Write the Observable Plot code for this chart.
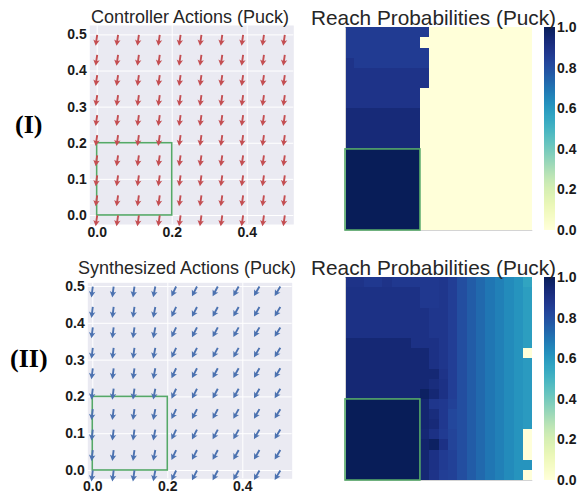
<!DOCTYPE html>
<html><head><meta charset="utf-8">
<script src="https://cdn.jsdelivr.net/npm/d3@7"></script>
<script src="https://cdn.jsdelivr.net/npm/@observablehq/plot@0.6"></script>
<style>
html,body{margin:0;padding:0;background:#fff;overflow:hidden;}
#root{position:relative;width:578px;height:494px;}
#root > svg{position:absolute;overflow:visible;}
</style></head><body><div id="root"></div>
<script>
// ---------- data ----------
const gridPos = [0, 0.0556, 0.1111, 0.1667, 0.2222, 0.2778, 0.3333, 0.3889, 0.4444, 0.5];
// arrow direction per column (degrees clockwise from north)
const controllerRotate = [188, 188, 188, 188, 188, 188, 188, 188, 188, 188];
const synthRotate = [187, 187, 188, 191, 205, 207, 208, 209, 210, 211];
const safeBox = [{x1: 0, x2: 0.2, y1: 0, y2: 0.2}];
const xTicks = [0, 0.2, 0.4];
const yTicks = [0, 0.1, 0.2, 0.3, 0.4, 0.5];
const cbTicks = [0, 0.2, 0.4, 0.6, 0.8, 1.0];
const cellSize = 0.025;
// reach probabilities, top row (y≈0.5) first, 20 columns from x=0 to x=0.5
const reachI = [
  [.86,.86,.86,.86,.86,.86,.86,.86,.86,0,0,0,0,0,0,0,0,0,0,0],
  [.86,.86,.86,.86,.86,.86,.86,.86,0,0,0,0,0,0,0,0,0,0,0,0],
  [.86,.86,.86,.86,.86,.86,.86,.86,.86,0,0,0,0,0,0,0,0,0,0,0],
  [.89,.86,.86,.86,.86,.86,.86,.86,.86,0,0,0,0,0,0,0,0,0,0,0],
  [.89,.89,.89,.89,.89,.89,.89,.89,.89,0,0,0,0,0,0,0,0,0,0,0],
  [.89,.89,.89,.89,.89,.89,.89,.89,.89,0,0,0,0,0,0,0,0,0,0,0],
  [.89,.89,.89,.89,.89,.89,.89,.89,0,0,0,0,0,0,0,0,0,0,0,0],
  [.89,.89,.89,.89,.89,.89,.89,.89,0,0,0,0,0,0,0,0,0,0,0,0],
  [.93,.93,.93,.93,.93,.93,.93,.93,0,0,0,0,0,0,0,0,0,0,0,0],
  [.93,.93,.93,.93,.93,.93,.93,.93,0,0,0,0,0,0,0,0,0,0,0,0],
  [.93,.93,.93,.93,.93,.93,.93,.93,0,0,0,0,0,0,0,0,0,0,0,0],
  [.93,.93,.93,.93,.93,.93,.93,.93,0,0,0,0,0,0,0,0,0,0,0,0],
  [1,1,1,1,1,1,1,1,0,0,0,0,0,0,0,0,0,0,0,0],
  [1,1,1,1,1,1,1,1,0,0,0,0,0,0,0,0,0,0,0,0],
  [1,1,1,1,1,1,1,1,0,0,0,0,0,0,0,0,0,0,0,0],
  [1,1,1,1,1,1,1,1,0,0,0,0,0,0,0,0,0,0,0,0],
  [1,1,1,1,1,1,1,1,0,0,0,0,0,0,0,0,0,0,0,0],
  [1,1,1,1,1,1,1,1,0,0,0,0,0,0,0,0,0,0,0,0],
  [1,1,1,1,1,1,1,1,0,0,0,0,0,0,0,0,0,0,0,0],
  [1,1,1,1,1,1,1,1,0,0,0,0,0,0,0,0,0,0,0,0]
];
const reachII = [
  [.89,.89,.87,.87,.89,.87,.87,.87,.87,.87,.88,.85,.80,.76,.725,.69,.665,.635,.61,.56],
  [.90,.90,.90,.90,.90,.90,.90,.90,.87,.87,.88,.85,.80,.76,.725,.69,.665,.635,.61,.58],
  [.90,.90,.90,.90,.90,.90,.90,.90,.87,.87,.88,.85,.80,.76,.725,.69,.665,.635,.61,.58],
  [.90,.90,.90,.90,.90,.90,.90,.90,.90,.88,.88,.85,.80,.76,.725,.69,.665,.635,.61,.58],
  [.90,.90,.90,.90,.90,.90,.90,.90,.90,.88,.88,.85,.80,.76,.725,.69,.665,.635,.61,.58],
  [.90,.90,.90,.90,.90,.90,.90,.90,.90,.88,.88,.85,.80,.76,.725,.69,.665,.635,.61,.58],
  [.94,.94,.94,.94,.94,.94,.94,.90,.90,.90,.88,.85,.80,.76,.725,.69,.665,.635,.61,.58],
  [.94,.94,.94,.94,.94,.94,.94,.94,.94,.90,.88,.85,.80,.76,.725,.69,.665,.635,.61,0],
  [.94,.94,.94,.94,.94,.94,.94,.94,.94,.90,.88,.85,.80,.76,.725,.69,.665,.635,.61,.59],
  [.94,.94,.94,.94,.94,.94,.94,.94,.94,.94,.89,.85,.80,.76,.725,.69,.665,.635,.61,.59],
  [.94,.94,.94,.94,.94,.94,.94,.94,.94,.92,.90,.85,.80,.76,.725,.69,.665,.635,.61,.59],
  [.94,.94,.94,.94,.94,.94,.94,.94,.98,.94,.90,.85,.80,.76,.725,.69,.665,.635,.61,.59],
  [1,1,1,1,1,1,1,1,.95,.88,.87,.84,.80,.76,.725,.69,.665,.635,.61,.59],
  [1,1,1,1,1,1,1,1,.95,.92,.87,.82,.80,.76,.725,.69,.665,.635,.61,.59],
  [1,1,1,1,1,1,1,1,.95,.93,.87,.82,.80,.76,.725,.69,.665,.635,.61,.59],
  [1,1,1,1,1,1,1,1,.94,.90,.86,.83,.80,.76,.725,.69,.665,.635,.61,0],
  [1,1,1,1,1,1,1,1,.96,.98,.90,.83,.80,.76,.725,.69,.665,.635,.61,0],
  [1,1,1,1,1,1,1,1,.95,.90,.86,.84,.80,.76,.725,.69,.665,.635,.61,0],
  [1,1,1,1,1,1,1,1,.94,.90,.86,.84,.80,.76,.725,.69,.665,.635,.61,.61],
  [1,1,1,1,1,1,1,1,.94,.89,.85,.84,.80,.76,.725,.69,.665,.635,.61,0]
];

// ---------- helpers ----------
const root = document.getElementById("root");
const GREEN = "#55a868";
const FONT = "'Liberation Sans', Arial, sans-serif";
const fmt = d3.format(".1f");
const colorScale = {type: "linear", domain: [0, 1], scheme: "YlGnBu"};

function place(el, left, top, tickFont) {
  el.style.left = left + "px";
  el.style.top = top + "px";
  if (tickFont) {
    el.querySelectorAll("text").forEach((t) => {
      t.setAttribute("style", `font-weight:700 !important;font-size:${tickFont}px !important;font-family:${FONT} !important;fill:#1a1a1a`);
    });
  }
  root.appendChild(el);
}

const quiverShape = {
  draw(ctx, l) {
    const sw = 0.95, hw = 3.2, hl = 6.0, ha = 5.0;
    ctx.moveTo(-sw, 0);
    ctx.lineTo(-sw, -(l - ha));
    ctx.lineTo(-hw, -(l - hl));
    ctx.lineTo(0, -l);
    ctx.lineTo(hw, -(l - hl));
    ctx.lineTo(sw, -(l - ha));
    ctx.lineTo(sw, 0);
    ctx.closePath();
  }
};

function quiver(rotations, color, cfg) {
  const pts = [];
  gridPos.forEach((y) => gridPos.forEach((x, c) => pts.push({x, y, r: rotations[c]})));
  return Plot.plot({
    width: 300, height: 245,
    marginLeft: cfg.ml, marginRight: cfg.mr, marginTop: cfg.mt, marginBottom: cfg.mb,
    x: {domain: cfg.xd},
    y: {domain: cfg.yd},
    style: {color: "#262626", background: "transparent", overflow: "visible"},
    marks: [
      Plot.frame({fill: "#eaeaf2", stroke: "none"}),
      Plot.gridX(xTicks, {stroke: "white", strokeOpacity: 1, strokeWidth: 1}),
      Plot.gridY(yTicks, {stroke: "white", strokeOpacity: 1, strokeWidth: 1}),
      Plot.rect(safeBox, {x1: "x1", x2: "x2", y1: "y1", y2: "y2", fill: "none", stroke: GREEN, strokeWidth: 1.6}),
      Plot.vector(pts, {x: "x", y: "y", rotate: "r", length: 11, anchor: "start", shape: quiverShape, fill: color, stroke: "none"}),
      Plot.axisX(xTicks, {tickSize: 0, tickPadding: 2.5, tickFormat: fmt, label: null}),
      Plot.axisY(yTicks, {tickSize: 0, tickPadding: 3, tickFormat: fmt, label: null})
    ]
  });
}

function heatmap(matrix) {
  const cells = [];
  matrix.forEach((row, r) => row.forEach((v, c) => cells.push({
    x1: c * cellSize, x2: (c + 1) * cellSize,
    y1: 0.5 - (r + 1) * cellSize, y2: 0.5 - r * cellSize, v
  })));
  return Plot.plot({
    width: 197, height: 213,
    marginLeft: 5, marginRight: 4.7, marginTop: 5.3, marginBottom: 5,
    x: {domain: [0, 0.5], axis: null},
    y: {domain: [0, 0.5], axis: null},
    color: colorScale,
    style: {background: "transparent", overflow: "visible"},
    marks: [
      Plot.rect(cells, {x1: "x1", x2: "x2", y1: "y1", y2: "y2", fill: "v", shapeRendering: "crispEdges"}),
      Plot.ruleY([0], {stroke: "#d4d4d4", strokeWidth: 1}),
      Plot.ruleX([0], {stroke: "#d4d4d4", strokeWidth: 1}),
      Plot.rect(safeBox, {x1: "x1", x2: "x2", y1: "y1", y2: "y2", fill: "none", stroke: GREEN, strokeWidth: 1.6})
    ]
  });
}

function colorbar() {
  const steps = d3.range(0, 1, 0.005);
  return Plot.plot({
    width: 38, height: 213,
    marginLeft: 4.3, marginRight: 23, marginTop: 5.3, marginBottom: 5,
    x: {domain: [0, 1], axis: null},
    y: {domain: [0, 1]},
    color: colorScale,
    style: {color: "#262626", background: "transparent", overflow: "visible"},
    marks: [
      Plot.rect(steps, {x1: 0, x2: 1, y1: (d) => d, y2: (d) => d + 0.0055, fill: (d) => d, shapeRendering: "crispEdges"}),
      Plot.axisY(cbTicks, {anchor: "right", tickSize: 0, tickPadding: 1.5, tickFormat: fmt, label: null})
    ]
  });
}

// ---------- panels ----------
place(quiver(controllerRotate, "#c44e52", {ml: 89.3, mr: 6.7, mt: 25, mb: 21, xd: [-0.0197, 0.524], yd: [-0.025, 0.526]}), 0, 0, 14);
place(quiver(synthRotate, "#4c72b0", {ml: 87.3, mr: 8.3, mt: 32.3, mb: 16.7, xd: [-0.0133, 0.5317], yd: [-0.0226, 0.5101]}), 0, 250, 14);
place(heatmap(reachI), 340, 22);
place(heatmap(reachII), 340, 272);
place(colorbar(), 540, 22, 14);
place(colorbar(), 540, 272, 14);

// ---------- titles and row labels ----------
const ns = "http://www.w3.org/2000/svg";
const overlay = document.createElementNS(ns, "svg");
overlay.setAttribute("width", 578);
overlay.setAttribute("height", 494);
overlay.style.left = "0px"; overlay.style.top = "0px"; overlay.style.pointerEvents = "none";
const texts = [
  {t: "Controller Actions (Puck)", x: 190, y: 23.3, a: "middle", f: FONT, s: 18, w: "normal"},
  {t: "Reach Probabilities (Puck)", x: 311, y: 25, a: "start", f: FONT, s: 20.8, w: "normal"},
  {t: "Synthesized Actions (Puck)", x: 187, y: 274.3, a: "middle", f: FONT, s: 18, w: "normal"},
  {t: "Reach Probabilities (Puck)", x: 311, y: 275, a: "start", f: FONT, s: 20.8, w: "normal"},
  {t: "(I)", x: 15, y: 133.3, a: "start", f: "'Liberation Serif', 'Times New Roman', serif", s: 26, w: "bold"},
  {t: "(II)", x: 10, y: 366.7, a: "start", f: "'Liberation Serif', 'Times New Roman', serif", s: 26, w: "bold"}
];
for (const d of texts) {
  const el = document.createElementNS(ns, "text");
  el.setAttribute("x", d.x); el.setAttribute("y", d.y);
  el.setAttribute("text-anchor", d.a);
  el.setAttribute("font-family", d.f);
  el.setAttribute("font-size", d.s);
  el.setAttribute("font-weight", d.w);
  el.setAttribute("fill", d.w === "bold" ? "#000" : "#262626");
  el.textContent = d.t;
  overlay.appendChild(el);
}
root.appendChild(overlay);
</script>
</body></html>
